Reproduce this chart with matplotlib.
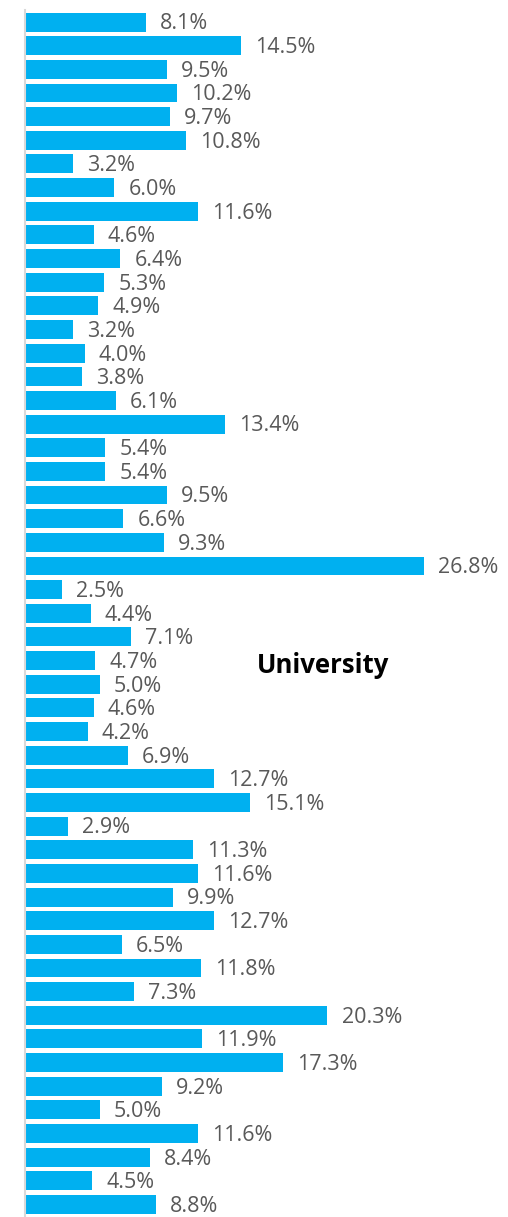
import numpy as np
import matplotlib.pyplot as plt

# share of respondents per row, top to bottom
values = [8.1, 14.5, 9.5, 10.2, 9.7, 10.8, 3.2, 6.0, 11.6, 4.6,
          6.4, 5.3, 4.9, 3.2, 4.0, 3.8, 6.1, 13.4, 5.4, 5.4,
          9.5, 6.6, 9.3, 26.8, 2.5, 4.4, 7.1, 4.7, 5.0, 4.6,
          4.2, 6.9, 12.7, 15.1, 2.9, 11.3, 11.6, 9.9, 12.7, 6.5,
          11.8, 7.3, 20.3, 11.9, 17.3, 9.2, 5.0, 11.6, 8.4, 4.5,
          8.8]
title = "University"

plt.rcParams['font.family'] = ['Open Sans', 'DejaVu Sans']

W, H = 508, 1217
fig = plt.figure(figsize=(W / 100, H / 100), dpi=100)
ax = fig.add_axes([25 / W, 0, 1 - 25 / W, 1207 / H])

y = np.arange(len(values))
ax.barh(y, values, height=0.8, color='#00b0f0', edgecolor='none')

for yi, v in zip(y, values):
    ax.text(v + 0.95, yi + 0.08, f"{v:.1f}%", va='center', ha='left',
            fontsize=15.5, color='#595959')

ax.text(0.481, 0.457, title, transform=ax.transAxes, fontsize=18.5,
        fontweight='bold', color='black', va='center', ha='left')

ax.set_xlim(0, 483 / 14.9)
ax.set_ylim(len(values) - 0.47, -0.51)
for s in ['top', 'right', 'bottom']:
    ax.spines[s].set_visible(False)
ax.spines['left'].set_color('#d9d9d9')
ax.spines['left'].set_linewidth(1.5)
ax.set_xticks([])
ax.set_yticks([])

fig.savefig('out.png', dpi=100, facecolor='white')
